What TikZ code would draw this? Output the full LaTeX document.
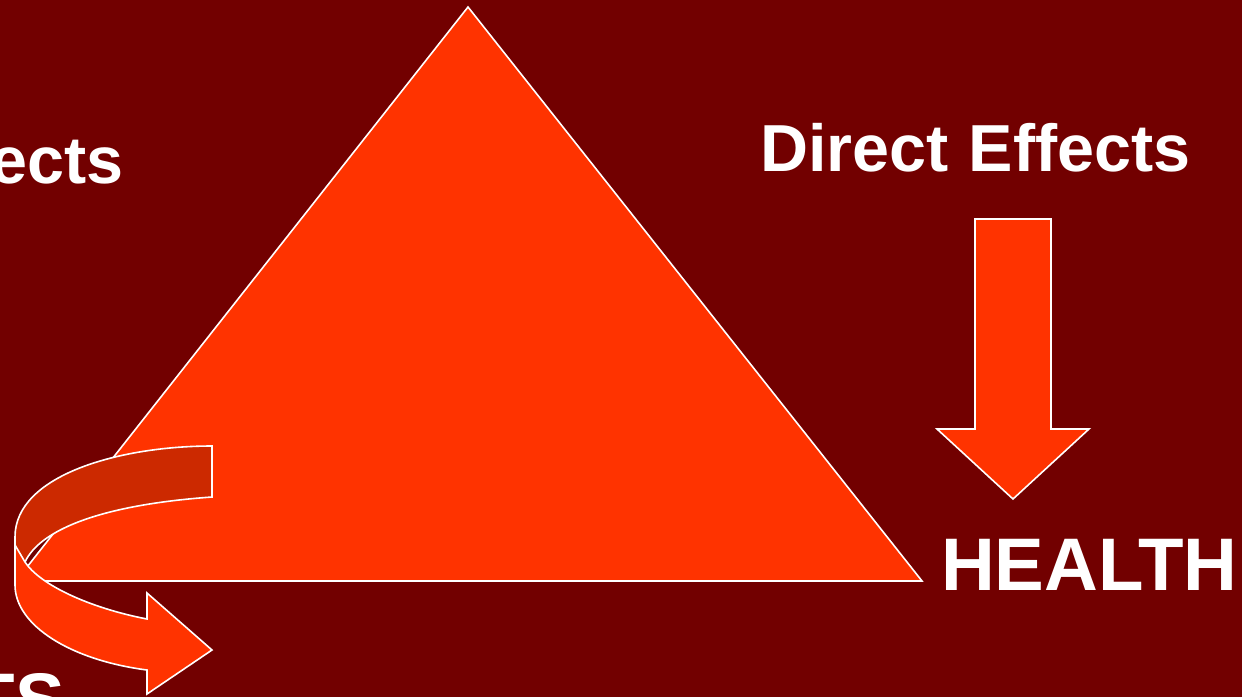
\documentclass[tikz,border=0pt]{standalone}
\usepackage{fontspec}
\setmainfont{Liberation Sans}
\definecolor{bg}{RGB}{114,0,0}
\definecolor{fillA}{RGB}{255,51,0}
\definecolor{fillB}{RGB}{204,41,0}
\begin{document}
\begin{tikzpicture}[x=1pt,y=-1pt,
  shp/.style={fill=fillA, draw=white, line width=1.6pt, line join=miter},
  lbl/.style={text=white, font=\bfseries\fontsize{66.5}{70}\selectfont, inner sep=0pt, outer sep=0pt},
  lblbig/.style={text=white, font=\bfseries\fontsize{74.5}{80}\selectfont, inner sep=0pt, outer sep=0pt}]
\fill[bg] (0,0) rectangle (1242,697);
\useasboundingbox (0,0) rectangle (1242,697);
\clip (0,0) rectangle (1242,697);
% triangle
\draw[shp] (468,7) -- (16,581) -- (922,581) -- cycle;
% curved arrow: back band
\draw[shp, fill=fillB] (212,446) .. controls (120,446) and (15,475) .. (15,537)
  -- (15,558) -- (25,562) .. controls (40,530) and (100,505) .. (212,497) -- cycle;
% curved arrow: front band with head
\draw[shp] (15,545) -- (15,585) .. controls (15,625) and (70,660) .. (147,670)
  -- (147,694) -- (212,650) -- (147,593) -- (147,619)
  .. controls (90,608) and (40,585) .. (25,562) -- cycle;
% down arrow
\draw[shp] (975,219) -- (1051,219) -- (1051,429) -- (1089,429) -- (1013,499)
  -- (937,429) -- (975,429) -- cycle;
% labels
\node[lbl, anchor=base west] (direct) at (760,171.7) {Direct\hspace{2pt} Effects};
\node[lbl, anchor=base east] (ects) at (124,183.3) {ects};
\node[lblbig, anchor=base west] (health) at (941,590) {HEALTH};
\node[lblbig, anchor=base east] (ts) at (65,725) {TS};
\end{tikzpicture}
\end{document}
